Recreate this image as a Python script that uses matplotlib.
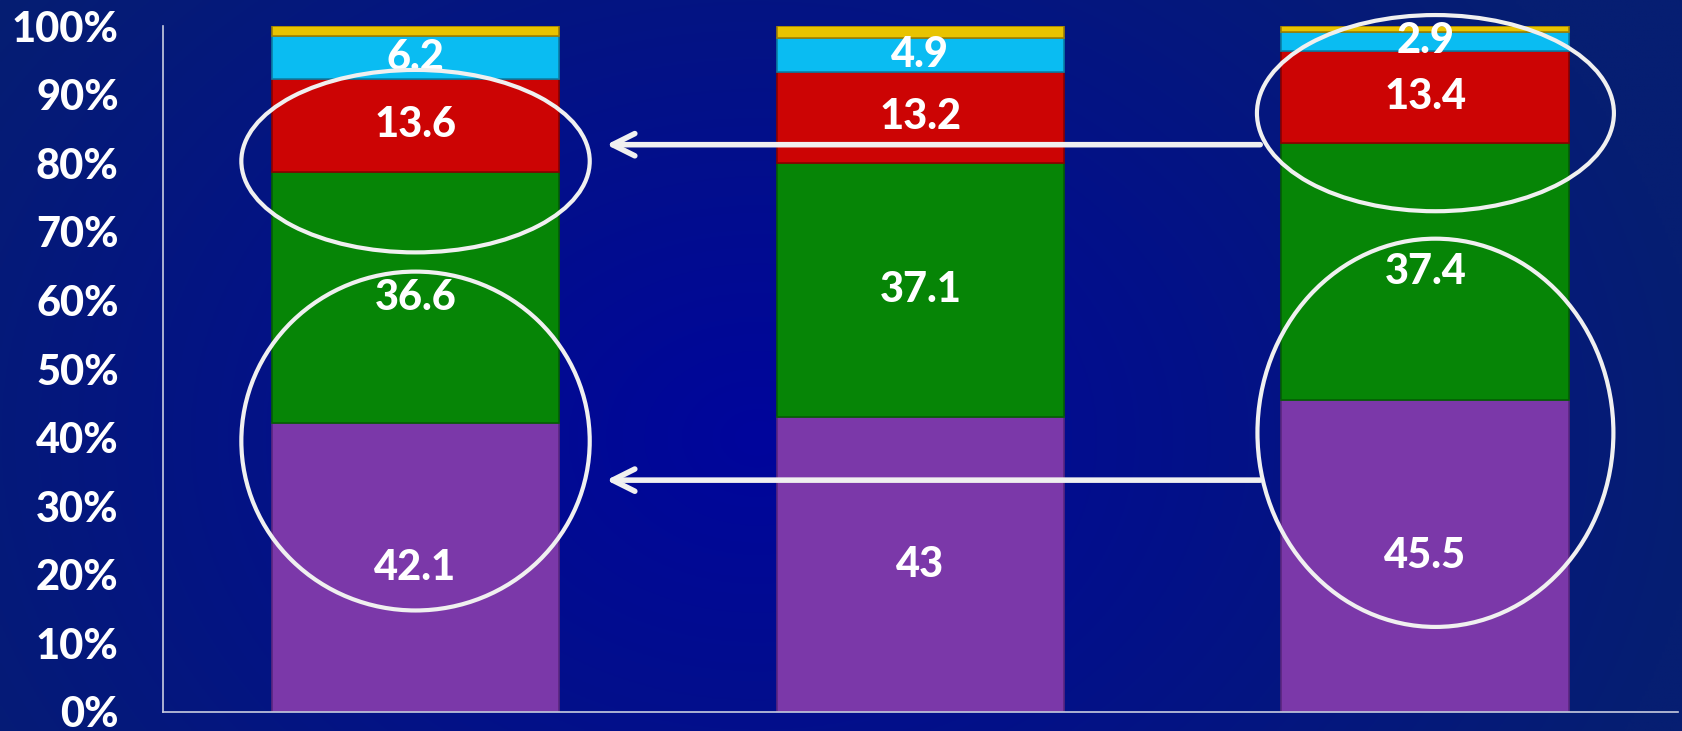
import numpy as np
import matplotlib.pyplot as plt
from matplotlib.patches import Ellipse

plt.rcParams['font.family'] = ['Lato', 'DejaVu Sans']

groups = [0, 1, 2]
purple = [42.1, 43.0, 45.5]
green = [36.6, 37.1, 37.4]
red = [13.6, 13.2, 13.4]
cyan = [6.2, 4.9, 2.9]
yellow = [1.5, 1.8, 0.8]

layers = [purple, green, red, cyan, yellow]
colors = ['#7b38a9', '#068506', '#cc0404', '#0abcf2', '#e8c300']
edges = ['#5a2680', '#045e04', '#8a0000', '#0a7fa6', '#a08000']
show_label = [True, True, True, True, False]

fig = plt.figure(figsize=(16.83, 7.31), dpi=100)

# background: dark blue radial gradient
bg = fig.add_axes([0, 0, 1, 1], zorder=-1)
yy, xx = np.mgrid[0:1:300j, 0:1:600j]
r = np.sqrt(((xx - 0.45) * 1.6) ** 2 + ((yy - 0.6) * 0.9) ** 2)
r = np.clip(r / 0.9, 0, 1)
c0 = np.array([0x00, 0x05, 0x9c]) / 255
c1 = np.array([0x06, 0x1e, 0x72]) / 255
img = c0[None, None, :] * (1 - r[..., None]) + c1[None, None, :] * r[..., None]
bg.imshow(img, aspect='auto', extent=[0, 1, 0, 1])
bg.axis('off')

ax = fig.add_axes([0.0969, 0.026, 0.9, 0.9384])
ax.set_facecolor('none')

bottom = np.zeros(3)
for vals, col, ec, lab in zip(layers, colors, edges, show_label):
    ax.bar(groups, vals, bottom=bottom, width=0.57, color=col,
           edgecolor=ec, linewidth=1.2, zorder=2)
    if lab:
        for x, v, b in zip(groups, vals, bottom):
            ax.text(x, b + v / 2, f'{v:g}', ha='center', va='center',
                    color='white', fontsize=30, fontweight='black', zorder=5)
    bottom = bottom + np.array(vals)

ax.set_xlim(-0.5, 2.5)
ax.set_ylim(0, 100)
ax.set_yticks(np.arange(0, 101, 10))
ax.set_yticklabels([f'{v}%' for v in range(0, 101, 10)])
ax.set_xticks([])
ax.tick_params(axis='y', length=0, pad=32, labelsize=30, labelcolor='white')
for lbl in ax.get_yticklabels():
    lbl.set_fontweight('black')
for s in ['top', 'right']:
    ax.spines[s].set_visible(False)
for s in ['left', 'bottom']:
    ax.spines[s].set_color('#c8cce0')
    ax.spines[s].set_linewidth(1.2)

# highlight circles
ring = dict(fill=False, edgecolor='#f0f0f0', linewidth=3, zorder=6, clip_on=False)
ax.add_patch(Ellipse((0.0, 80.3), 0.69, 26.6, **ring))
ax.add_patch(Ellipse((0.0, 39.5), 0.69, 49.4, **ring))
ax.add_patch(Ellipse((2.02, 87.3), 0.707, 28.6, **ring))
ax.add_patch(Ellipse((2.02, 40.7), 0.705, 56.6, **ring))

# arrows
arrow = dict(arrowstyle='->', color='#f0f0f0', lw=4, mutation_scale=40,
             shrinkA=0, shrinkB=0)
ax.annotate('', xy=(0.378, 82.7), xytext=(1.673, 82.7), arrowprops=arrow, zorder=6)
ax.annotate('', xy=(0.378, 33.8), xytext=(1.673, 33.8), arrowprops=arrow, zorder=6)

fig.savefig('out.png', dpi=100)
